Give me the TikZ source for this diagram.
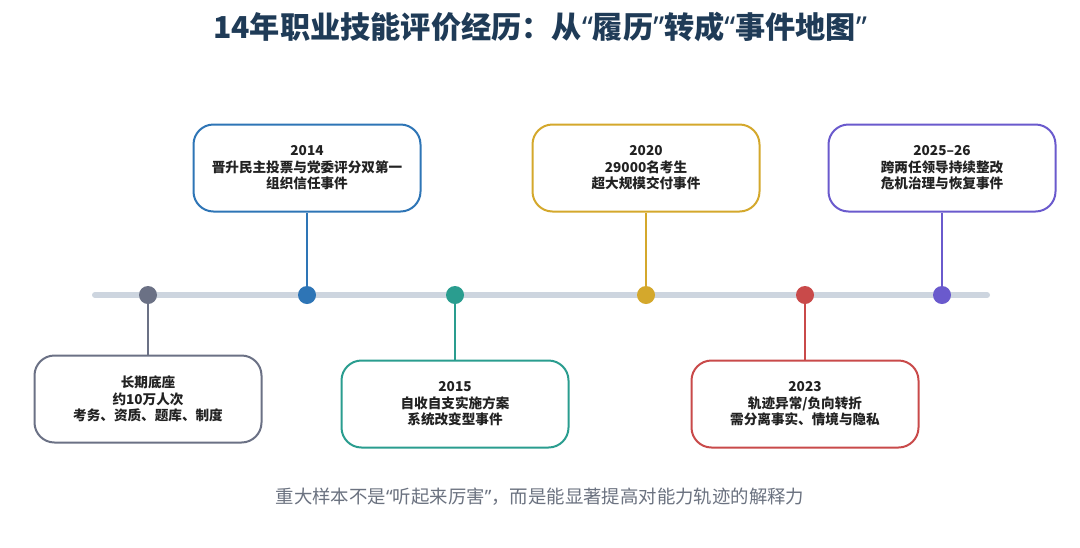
\documentclass[tikz,border=0pt]{standalone}
\usepackage{fontspec}
\setmainfont{Noto Sans CJK SC}
\newfontfamily\latinq{Noto Sans}
\newcommand{\myLQ}{{\latinq “}}
\newcommand{\myRQ}{{\latinq ”}}
\definecolor{titlec}{HTML}{1F3B57}
\definecolor{axisc}{HTML}{CDD5DF}
\definecolor{txtc}{HTML}{222222}
\definecolor{footc}{HTML}{6B7280}
\definecolor{cgray}{HTML}{6B7185}
\definecolor{cblue}{HTML}{2E75B6}
\definecolor{cteal}{HTML}{2A9D8F}
\definecolor{cgold}{HTML}{D4A82C}
\definecolor{cred}{HTML}{C94A4A}
\definecolor{cpurple}{HTML}{6A5ACD}
\tikzset{
  evbox/.style={draw=#1, line width=1pt, rounded corners=10pt, fill=white,
    minimum width=113.5pt, minimum height=43.5pt, align=center, text=txtc,
    font=\bfseries\fontsize{6.8pt}{8.3pt}\selectfont},
  evdot/.style={circle, fill=#1, minimum size=9pt, inner sep=0pt},
  evline/.style={draw=#1, line width=1pt}
}
\begin{document}
\begin{tikzpicture}[x=0.5pt, y=-0.5pt]
\useasboundingbox[fill=white] (0,0) rectangle (1080,547);
\node[font=\bfseries\fontsize{15.1pt}{18pt}\selectfont, text=titlec] (title) at (540,27) {14年职业技能评价经历：从\myLQ 履历\myRQ 转成\myLQ 事件地图\myRQ};
\coordinate (axL) at (95,295);
\coordinate (axR) at (987,295);
\draw[axisc, line width=3pt, line cap=round] (axL) -- (axR);
% boxes
\node[evbox=cgray] (b1) at (148,399) {长期底座\\约10万人次\\考务、资质、题库、制度};
\node[evbox=cblue] (b2) at (307,168) {2014\\晋升民主投票与党委评分双第一\\组织信任事件};
\node[evbox=cteal] (b3) at (455,404) {2015\\自收自支实施方案\\系统改变型事件};
\node[evbox=cgold] (b4) at (646,168) {2020\\29000名考生\\超大规模交付事件};
\node[evbox=cred] (b5) at (805,404) {2023\\轨迹异常/负向转折\\需分离事实、情境与隐私};
\node[evbox=cpurple] (b6) at (942,168) {2025–26\\跨两任领导持续整改\\危机治理与恢复事件};
% dots
\node[evdot=cgray] (d1) at (148,295) {};
\node[evdot=cblue] (d2) at (307,295) {};
\node[evdot=cteal] (d3) at (455,295) {};
\node[evdot=cgold] (d4) at (646,295) {};
\node[evdot=cred] (d5) at (805,295) {};
\node[evdot=cpurple] (d6) at (942,295) {};
% connectors
\draw[evline=cgray] (d1) -- (b1);
\draw[evline=cblue] (d2) -- (b2);
\draw[evline=cteal] (d3) -- (b3);
\draw[evline=cgold] (d4) -- (b4);
\draw[evline=cred] (d5) -- (b5);
\draw[evline=cpurple] (d6) -- (b6);
\node[font=\fontsize{9.2pt}{10pt}\selectfont, text=footc] (foot) at (540,497) {重大样本不是\myLQ 听起来厉害\myRQ，而是能显著提高对能力轨迹的解释力};
\end{tikzpicture}
\end{document}
